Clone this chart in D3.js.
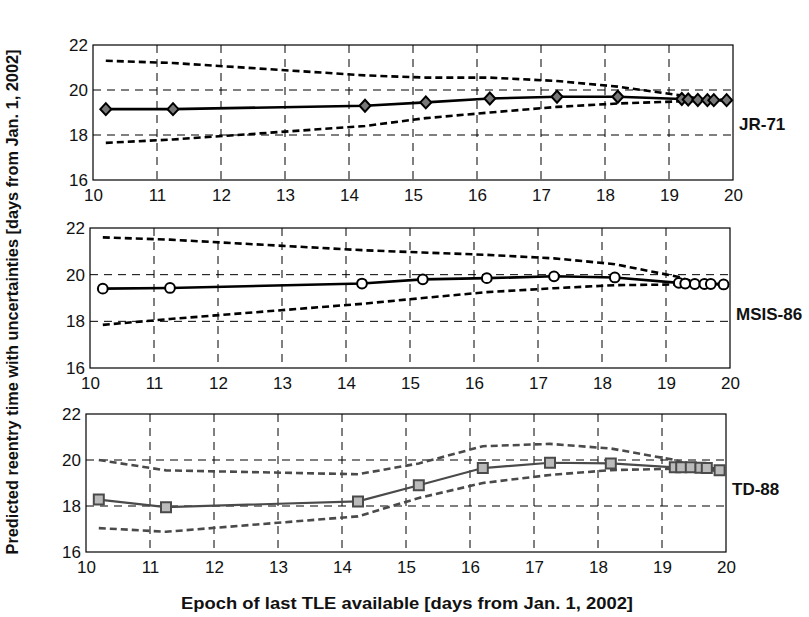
<!DOCTYPE html>
<html>
<head>
<meta charset="utf-8">
<script src="https://cdn.jsdelivr.net/npm/d3@7"></script>
<style>
  body { margin: 0; background: #fff; }
  svg { display: block; font-family: "Liberation Sans", Arial, sans-serif; }
</style>
</head>
<body>
<svg id="chart" width="809" height="617"></svg>
<script>
// epochs of last TLE (days from Jan 1, 2002)
var epochs = [10.2, 11.25, 14.25, 15.2, 16.2, 17.25, 18.2, 19.2, 19.3, 19.45, 19.6, 19.7, 19.9];

var jr71Pred  = [19.15, 19.15, 19.3, 19.45, 19.62, 19.7, 19.7, 19.6, 19.58, 19.56, 19.55, 19.55, 19.55];
var jr71Upper = [21.3, 21.2, 20.65, 20.55, 20.55, 20.4, 20.15, 19.75, 19.7, 19.62, 19.58, 19.56, 19.55];
var jr71Lower = [17.65, 17.8, 18.4, 18.75, 19.0, 19.25, 19.4, 19.5, 19.5, 19.52, 19.53, 19.55, 19.55];

var msisPred  = [19.4, 19.43, 19.62, 19.8, 19.85, 19.93, 19.88, 19.65, 19.62, 19.6, 19.6, 19.6, 19.58];
var msisUpper = [21.6, 21.5, 21.05, 20.95, 20.85, 20.7, 20.45, 19.9, 19.8, 19.7, 19.65, 19.62, 19.6];
var msisLower = [17.85, 18.1, 18.75, 19.0, 19.25, 19.42, 19.55, 19.58, 19.58, 19.6, 19.6, 19.6, 19.58];

var tdPred  = [18.28, 17.95, 18.2, 18.9, 19.65, 19.88, 19.85, 19.68, 19.68, 19.68, 19.66, 19.65, 19.55];
var tdUpper = [20.0, 19.55, 19.38, 19.85, 20.6, 20.7, 20.5, 20.0, 19.9, 19.8, 19.72, 19.68, 19.6];
var tdLower = [17.04, 16.88, 17.55, 18.35, 19.0, 19.35, 19.56, 19.62, 19.62, 19.62, 19.6, 19.58, 19.52];

var modelNames = ['JR-71', 'MSIS-86', 'TD-88'];
var xTicks = [10, 11, 12, 13, 14, 15, 16, 17, 18, 19, 20];
var yTicks = [16, 18, 20, 22];

var svg = d3.select('#chart');

var panels = [
    { name: modelNames[0], pred: jr71Pred, upper: jr71Upper, lower: jr71Lower,
      left: 93, right: 733, top: 45, bottom: 180, marker: 'diamond', color: '#000', fill: '#777', labelY: 126 },
    { name: modelNames[1], pred: msisPred, upper: msisUpper, lower: msisLower,
      left: 90, right: 730, top: 228, bottom: 368, marker: 'circle', color: '#000', fill: '#fff', labelY: 316 },
    { name: modelNames[2], pred: tdPred, upper: tdUpper, lower: tdLower,
      left: 86, right: 726, top: 414, bottom: 552, marker: 'square', color: '#4a4a4a', fill: '#bbb', labelY: 491 }
];

// marker shapes
function markerPath(kind) {
    if (kind === 'diamond') return 'M0,-6L5.5,0L0,6L-5.5,0Z';
    if (kind === 'square') return 'M-5,-5H5V5H-5Z';
    return d3.symbol().type(d3.symbolCircle).size(75)();
}

panels.forEach(function(p) {
    var x = d3.scaleLinear().domain([10, 20]).range([p.left, p.right]);
    var y = d3.scaleLinear().domain([16, 22]).range([p.bottom, p.top]);
    var g = svg.append('g');

    // dashed grid
    g.selectAll('line.gx')
        .data(xTicks.slice(1, -1))
        .enter().append('line')
        .attr('x1', function(d) { return x(d); })
        .attr('x2', function(d) { return x(d); })
        .attr('y1', p.top).attr('y2', p.bottom)
        .attr('stroke', '#000').attr('stroke-width', 1)
        .attr('stroke-dasharray', '8,6');
    g.selectAll('line.gy')
        .data(yTicks.slice(1, -1))
        .enter().append('line')
        .attr('y1', function(d) { return y(d); })
        .attr('y2', function(d) { return y(d); })
        .attr('x1', p.left).attr('x2', p.right)
        .attr('stroke', '#000').attr('stroke-width', 1)
        .attr('stroke-dasharray', '8,6');

    // axes
    var xAxis = d3.axisBottom(x).tickValues(xTicks).tickFormat(d3.format('d')).tickSize(0).tickPadding(9);
    var yAxis = d3.axisLeft(y).tickValues(yTicks).tickFormat(d3.format('d')).tickSize(0).tickPadding(5);
    g.append('g').attr('transform', 'translate(0,' + p.bottom + ')').call(xAxis);
    g.append('g').attr('transform', 'translate(' + p.left + ',0)').call(yAxis);
    g.selectAll('.domain').remove();
    g.selectAll('.tick text')
        .attr('font-size', 17)
        .attr('font-family', '"Liberation Sans", Arial, sans-serif')
        .attr('fill', '#111');

    g.append('rect')
        .attr('x', p.left).attr('y', p.top)
        .attr('width', p.right - p.left).attr('height', p.bottom - p.top)
        .attr('fill', 'none').attr('stroke', '#000').attr('stroke-width', 1.2);

    var line = d3.line()
        .x(function(d, i) { return x(epochs[i]); })
        .y(function(d) { return y(d); });

    [p.upper, p.lower].forEach(function(series) {
        g.append('path')
            .attr('d', line(series))
            .attr('fill', 'none')
            .attr('stroke', p.color)
            .attr('stroke-width', 2.6)
            .attr('stroke-dasharray', '7,4');
    });

    g.append('path')
        .attr('d', line(p.pred))
        .attr('fill', 'none')
        .attr('stroke', p.color)
        .attr('stroke-width', p.marker === 'square' ? 2.2 : 2.6);

    g.selectAll('path.mk')
        .data(p.pred)
        .enter().append('path')
        .attr('d', markerPath(p.marker))
        .attr('transform', function(d, i) { return 'translate(' + x(epochs[i]) + ',' + y(d) + ')'; })
        .attr('fill', p.fill)
        .attr('stroke', p.color)
        .attr('stroke-width', 2);

    svg.append('text')
        .attr('x', p.right + 6)
        .attr('y', p.labelY)
        .attr('dominant-baseline', 'middle')
        .attr('font-size', 17)
        .attr('font-weight', 'bold')
        .attr('fill', '#111')
        .text(p.name);
});

svg.append('text')
    .attr('x', 407)
    .attr('y', 609)
    .attr('text-anchor', 'middle')
    .attr('font-size', 17)
    .attr('font-weight', 'bold')
    .attr('textLength', 452)
    .attr('lengthAdjust', 'spacingAndGlyphs')
    .attr('fill', '#111')
    .text('Epoch of last TLE available [days from Jan. 1, 2002]');

svg.append('text')
    .attr('transform', 'translate(18,302) rotate(-90)')
    .attr('text-anchor', 'middle')
    .attr('font-size', 17)
    .attr('font-weight', 'bold')
    .attr('textLength', 505)
    .attr('lengthAdjust', 'spacingAndGlyphs')
    .attr('fill', '#111')
    .text('Predicted reentry time with uncertainties [days from Jan. 1, 2002]');
</script>
</body>
</html>
